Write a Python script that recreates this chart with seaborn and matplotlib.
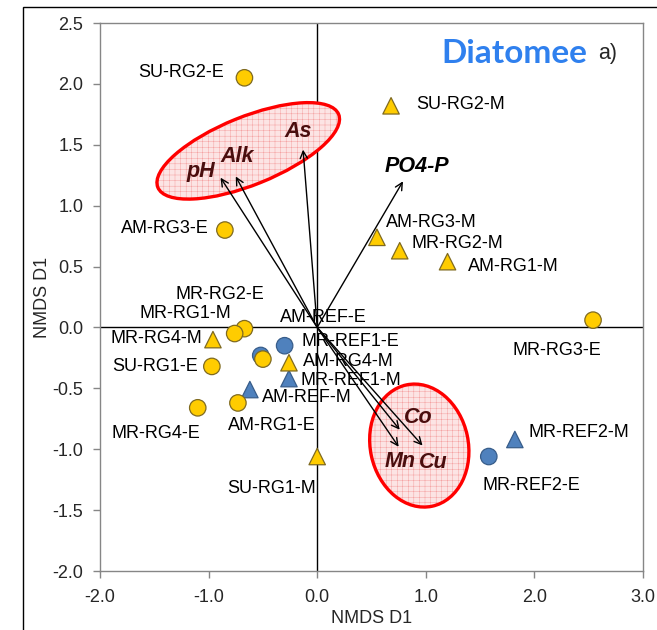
import matplotlib
matplotlib.use("Agg")
import matplotlib.pyplot as plt
import matplotlib.transforms as mtransforms
from matplotlib.patches import Ellipse, Rectangle
import seaborn as sns
import pandas as pd

# site scores
site_labels = ['SU-RG2-E', 'SU-RG2-M', 'AM-RG3-E', 'AM-RG3-M', 'MR-RG2-M', 'AM-RG1-M',
               'MR-RG3-E', 'MR-RG2-E', 'MR-RG1-M', 'MR-RG4-M', 'SU-RG1-E', 'AM-REF-E',
               '', 'MR-REF1-E', 'AM-RG4-M', 'MR-REF1-M', 'AM-REF-M', 'MR-RG4-E',
               'AM-RG1-E', 'SU-RG1-M', 'MR-REF2-M', 'MR-REF2-E']
site_x = [-0.67, 0.68, -0.85, 0.55, 0.76, 1.20, 2.54, -0.67, -0.76, -0.96, -0.97, -0.52,
          -0.50, -0.30, -0.26, -0.26, -0.62, -1.10, -0.73, 0.00, 1.82, 1.58]
site_y = [2.05, 1.82, 0.80, 0.74, 0.63, 0.54, 0.06, -0.01, -0.05, -0.10, -0.32, -0.23,
          -0.26, -0.15, -0.29, -0.42, -0.51, -0.66, -0.62, -1.06, -0.92, -1.06]
site_type = ['RG', 'RG', 'RG', 'RG', 'RG', 'RG', 'RG', 'RG', 'RG', 'RG', 'RG', 'REF',
             'RG', 'REF', 'RG', 'REF', 'REF', 'RG', 'RG', 'RG', 'REF', 'REF']
site_shape = ['circle', 'triangle', 'circle', 'triangle', 'triangle', 'triangle', 'circle',
              'circle', 'circle', 'triangle', 'circle', 'circle', 'circle', 'circle',
              'triangle', 'triangle', 'triangle', 'circle', 'circle', 'triangle',
              'triangle', 'circle']

# environmental vectors
vec_names = ['pH', 'Alk', 'As', 'PO4-P', 'Co', 'Mn', 'Cu']
vec_x = [-0.89, -0.75, -0.13, 0.79, 0.76, 0.75, 0.97]
vec_y = [1.23, 1.24, 1.46, 1.20, -0.84, -0.98, -0.97]

# label placement (pixel offsets)
label_pos = {
    'SU-RG2-E': ('right', -20, 5), 'SU-RG2-M': ('left', 25, 1), 'AM-RG3-E': ('right', -16, 2),
    'AM-RG3-M': ('left', 9, 15), 'MR-RG2-M': ('left', 12, 7), 'AM-RG1-M': ('left', 20, -5),
    'MR-RG3-E': ('right', 8, -30), 'MR-RG2-E': ('right', 20, 34), 'MR-RG1-M': ('right', -3, 20),
    'MR-RG4-M': ('right', -11, 1), 'SU-RG1-E': ('right', -14, 0), 'AM-REF-E': ('left', 19, 38),
    'MR-REF1-E': ('left', 17, 4), 'AM-RG4-M': ('left', 14, 1), 'MR-REF1-M': ('left', 12, -2),
    'AM-REF-M': ('left', 12, -8), 'MR-RG4-E': ('right', 3, -26), 'AM-RG1-E': ('left', -10, -23),
    'SU-RG1-M': ('right', -1, -32), 'MR-REF2-M': ('left', 14, 7), 'MR-REF2-E': ('left', -6, -29),
}
vec_pos = {'pH': (-20, 6), 'Alk': (1, 20), 'As': (-5, 18), 'PO4-P': (14, 15),
           'Co': (19, 12), 'Mn': (1, -15), 'Cu': (11, -17)}

df = pd.DataFrame({'label': site_labels, 'x': site_x, 'y': site_y,
                   'type': site_type, 'shape': site_shape})

sns.set_style('white')
plt.rcParams['font.family'] = ['Liberation Sans', 'DejaVu Sans']
plt.rcParams['hatch.linewidth'] = 0.2

fig = plt.figure(figsize=(6.57, 6.3), dpi=100)
ax = fig.add_axes([100 / 657, 1 - 571 / 630, 543 / 657, 548 / 630])

# outer frame
fig.patches.append(Rectangle((23 / 657, -0.1), 1.2, 1.1 - 7 / 630, transform=fig.transFigure,
                             fill=False, edgecolor='black', lw=1, clip_on=False))

ax.axhline(0, color='black', lw=1, zorder=1)
ax.axvline(0, color='black', lw=1, zorder=1)


def px_ellipse(cx, cy, w_px, h_px, angle):
    tr = fig.dpi_scale_trans + mtransforms.ScaledTranslation(cx, cy, ax.transData)
    e = Ellipse((0, 0), w_px / 100, h_px / 100, angle=angle, transform=tr,
                facecolor='#fce4e4', edgecolor='#f07070', hatch='+++', lw=0, zorder=2)
    ax.add_patch(e)
    e2 = Ellipse((0, 0), w_px / 100, h_px / 100, angle=angle, transform=tr,
                 facecolor='none', edgecolor='red', lw=2.4, zorder=2.1)
    ax.add_patch(e2)


px_ellipse(-0.635, 1.45, 195, 68, 22)
px_ellipse(0.94, -0.97, 98, 124, 12)

# vectors
for name, vx, vy in zip(vec_names, vec_x, vec_y):
    ax.annotate('', xy=(vx, vy), xytext=(0, 0),
                arrowprops=dict(arrowstyle='->', lw=1, color='black', mutation_scale=13,
                                shrinkA=0, shrinkB=0), zorder=3)
    dx, dy = vec_pos[name]
    ax.annotate(name, xy=(vx, vy), xytext=(dx, dy), textcoords='offset pixels',
                ha='center', va='center', fontsize=15.5, fontweight='bold', fontstyle='italic',
                color='black' if name == 'PO4-P' else '#4a0e0e', zorder=4)

markers = {'circle': 'o', 'triangle': '^'}
sns.scatterplot(data=df[df['type'] == 'REF'], x='x', y='y', style='shape', markers=markers,
                color='#4f81bd', edgecolor='#385d8a', linewidth=0.9, s=140, legend=False,
                ax=ax, zorder=5)
sns.scatterplot(data=df[df['type'] == 'RG'], x='x', y='y', style='shape', markers=markers,
                color='#ffcc00', edgecolor='#7f6a20', linewidth=0.9, s=140, legend=False,
                ax=ax, zorder=5)

for lab, x, y in zip(site_labels, site_x, site_y):
    if not lab:
        continue
    ha, dx, dy = label_pos[lab]
    ax.annotate(lab, xy=(x, y), xytext=(dx, dy), textcoords='offset pixels',
                ha=ha, va='center', fontsize=13, color='black', zorder=6)

ax.set_xlim(-2.0, 3.0)
ax.set_ylim(-2.0, 2.5)
ax.set_xticks([-2.0, -1.0, 0.0, 1.0, 2.0, 3.0])
ax.set_yticks([-2.0, -1.5, -1.0, -0.5, 0.0, 0.5, 1.0, 1.5, 2.0, 2.5])
ax.xaxis.set_major_formatter(matplotlib.ticker.FormatStrFormatter('%.1f'))
ax.yaxis.set_major_formatter(matplotlib.ticker.FormatStrFormatter('%.1f'))
ax.tick_params(direction='out', length=5, width=1, color='#868686', labelsize=13,
               left=True, bottom=True)
ax.tick_params(axis='x', pad=8)
ax.tick_params(axis='y', pad=7)
for sp in ax.spines.values():
    sp.set_color('#868686')
    sp.set_linewidth(1)
ax.set_xlabel('NMDS D1', fontsize=13, labelpad=3)
ax.set_ylabel('NMDS D1', fontsize=13, labelpad=1)

ax.text(0.898, 0.945, 'Diatomee', transform=ax.transAxes, ha='right', va='center',
        fontsize=24, fontweight='bold', color='#2f80ee', family=['Lato', 'DejaVu Sans'])
ax.text(0.918, 0.945, 'a)', transform=ax.transAxes, ha='left', va='center', fontsize=15.5)

fig.savefig('out.png', dpi=100)
